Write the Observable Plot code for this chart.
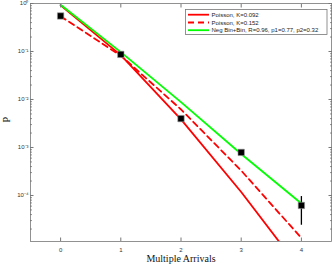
<!DOCTYPE html>
<html><head><meta charset="utf-8">
<script src="https://cdn.jsdelivr.net/npm/d3@7"></script>
<script src="https://cdn.jsdelivr.net/npm/@observablehq/plot@0.6"></script>
<style>body{margin:0;background:#fff}</style>
</head><body><div id="chart"></div>
<script>
const arrivals = [0, 1, 2, 3, 4];
const observed = [0.55, 0.087, 0.0040, 0.00079, 0.000062];
const obsLow = [0.53, 0.084, 0.0038, 0.00075, 0.000024];
const obsHigh = [0.57, 0.090, 0.0042, 0.00083, 0.000095];
const poisson092 = [0.912, 0.084, 0.00386, 0.000118, 0.0000027];
const poisson152 = [0.54, 0.082, 0.0062, 0.00033, 0.000013];
const negBinBin = [0.94, 0.097, 0.0088, 0.00073, 0.000068];
const seriesNames = ["Poisson, K=0.092", "Poisson, K=0.152", "Neg Bin+Bin, R=0.96, p1=0.77, p2=0.32"];
const xTicks = [0, 1, 2, 3, 4];
const yMajor = [1e-4, 1e-3, 1e-2, 1e-1, 1];
const yTickLabels = ["10⁻⁴", "10⁻³", "10⁻²", "10⁻¹", "10⁰"];
const xLabel = "Multiple Arrivals";
const yLabel = "P";

const rows = arrivals.map((x, i) => ({x, obs: observed[i], lo: obsLow[i], hi: obsHigh[i], p1: poisson092[i], p2: poisson152[i], nb: negBinBin[i]}));
const yMinor = [];
for (let e = -5; e <= 0; e++) for (let m = 2; m <= 9; m++) { const v = m * Math.pow(10, e); if (v >= 1.1e-5 && v <= 1) yMinor.push(v); }

const axisStroke = "#777";
const plot = Plot.plot({
  width: 332, height: 266,
  marginLeft: 30, marginRight: 1, marginTop: 3, marginBottom: 25,
  style: {fontFamily: "'Liberation Sans', Arial, sans-serif", fontSize: "6px", background: "white", color: "#333"},
  x: {domain: [-0.5, 4.5]},
  y: {type: "log", domain: [1.1e-5, 1]},
  marks: [
    Plot.line(rows, {x: "x", y: "p1", stroke: "#ff0000", strokeWidth: 1.8, clip: true}),
    Plot.line(rows, {x: "x", y: "p2", stroke: "#ff0000", strokeWidth: 1.8, strokeDasharray: "6,4", clip: true}),
    Plot.line(rows, {x: "x", y: "nb", stroke: "#00ff00", strokeWidth: 1.8, clip: true}),
    Plot.ruleX(rows, {x: "x", y1: "lo", y2: "hi", stroke: "black", strokeWidth: 1.3}),
    Plot.dot(rows, {x: "x", y: "obs", symbol: "square", r: 3.6, fill: "black", stroke: "#999", strokeWidth: 0.6}),
    Plot.frame({stroke: axisStroke, strokeWidth: 0.8}),
    Plot.axisY({anchor: "left", ticks: yMajor, tickSize: -3.5, tickPadding: 5.5, stroke: axisStroke, fill: "#333", tickFormat: d => yTickLabels[yMajor.indexOf(d)], label: null}),
    Plot.axisY({anchor: "left", ticks: yMinor, tickSize: -1.8, stroke: axisStroke, fill: "none", label: null}),
    Plot.axisY({anchor: "right", ticks: yMajor, tickSize: -3.5, stroke: axisStroke, fill: "none", label: null}),
    Plot.axisY({anchor: "right", ticks: yMinor, tickSize: -1.8, stroke: axisStroke, fill: "none", label: null}),
    Plot.axisX({anchor: "bottom", ticks: xTicks, tickSize: -3.5, tickPadding: 10, stroke: axisStroke, fill: "#333", tickFormat: d => String(d), label: null}),
    Plot.axisX({anchor: "top", ticks: xTicks, tickSize: -3.5, stroke: axisStroke, fill: "none", label: null}),
    Plot.text([xLabel], {frameAnchor: "bottom", text: d => d, dy: 20, fontFamily: "'Liberation Serif', 'Times New Roman', serif", fontSize: 10, fill: "#111"}),
    Plot.text([yLabel], {frameAnchor: "left", text: d => d, dx: -24, rotate: -90, fontFamily: "'Liberation Serif', 'Times New Roman', serif", fontSize: 10, fill: "#111"})
  ]
});
document.getElementById("chart").appendChild(plot);

// legend box inside the plot area
const svg = d3.select(plot);
const lg = svg.append("g").attr("font-family", "'Liberation Sans', Arial, sans-serif").attr("font-size", 6).attr("text-anchor", "start");
lg.append("rect").attr("x", 185.5).attr("y", 9.5).attr("width", 141.5).attr("height", 25).attr("fill", "white").attr("stroke", "#777").attr("stroke-width", 0.8);
const legendStyles = [
  {stroke: "#ff0000", dash: null},
  {stroke: "#ff0000", dash: "6,4"},
  {stroke: "#00ff00", dash: null}
];
const rowY = [14.7, 22.5, 30.2];
seriesNames.forEach((name, i) => {
  lg.append("line").attr("x1", 188).attr("x2", 209).attr("y1", rowY[i]).attr("y2", rowY[i])
    .attr("stroke", legendStyles[i].stroke).attr("stroke-width", 1.8).attr("stroke-dasharray", legendStyles[i].dash);
  lg.append("text").attr("x", 211.5).attr("y", rowY[i]).attr("dy", "0.35em").attr("text-anchor", "start").attr("fill", "#222").text(name);
});
</script>
</body></html>
